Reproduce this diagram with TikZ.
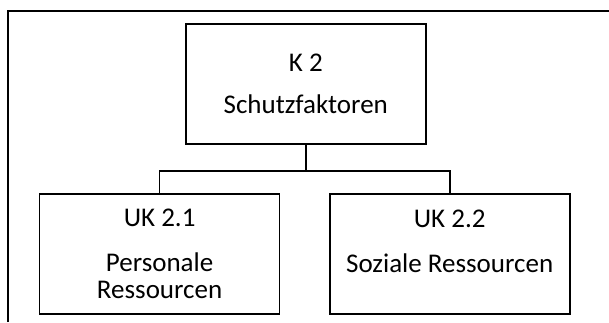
\documentclass[tikz,border=0pt]{standalone}
\usepackage{fontspec}
\setmainfont{Carlito}
\usetikzlibrary{positioning}
\tikzset{
    kbox/.style = {draw, line width=1.7pt, minimum width=240pt, minimum height=120pt,
        align=center, inner sep=0pt, font=\fontsize{27}{27}\selectfont},
    link/.style = {line width=1.7pt}
}
\begin{document}
\begin{tikzpicture}[x=1pt, y=1pt]
    \useasboundingbox (0, 0) rectangle (609, 322);
    % frame
    \draw [link] (7.8, 0) -- (7.8, 311.3) -- (609, 311.3);
    \node [kbox] (k2) at (305.8, 237.7) {K 2\\[15pt]Schutzfaktoren};
    \node [kbox] (uk21) at (159.6, 67.7) {UK 2.1\\[18pt]Personale\\Ressourcen};
    \node [kbox] (uk22) at (449.7, 67.7) {UK 2.2\\[18pt]Soziale Ressourcen\\\mbox{}};
    \coordinate (split) at (305.8, 151);
    \draw [link] (k2.south) -- (split);
    \draw [link] (uk21.north) |- (split) -| (uk22.north);
\end{tikzpicture}
\end{document}
